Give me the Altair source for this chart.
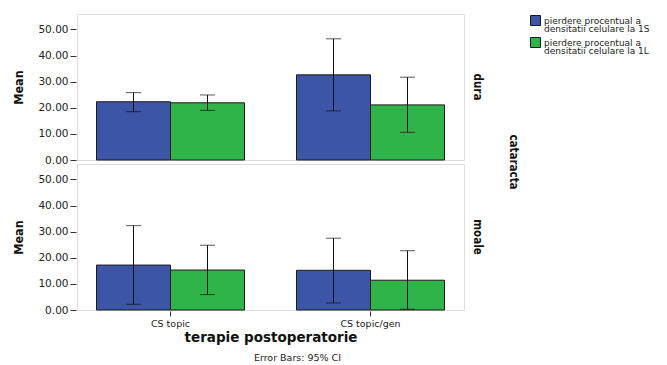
import altair as alt
import pandas as pd

therapy = ["CS topic", "CS topic/gen"]
cataract = ["dura", "moale"]
series = ["pierdere procentual a densitatii celulare la 1S",
          "pierdere procentual a densitatii celulare la 1L"]

# order: (dura, CS topic), (dura, CS topic/gen), (moale, CS topic), (moale, CS topic/gen)
mean_1S = [22.3, 32.6, 17.2, 15.2]
lo_1S = [18.5, 18.8, 2.2, 2.7]
hi_1S = [25.8, 46.4, 32.3, 27.5]
mean_1L = [21.9, 21.1, 15.3, 11.4]
lo_1L = [19.0, 10.6, 5.9, 0.3]
hi_1L = [24.9, 31.7, 24.8, 22.7]
y_ticks = [0, 10, 20, 30, 40, 50]

rows = []
i = 0
for c in cataract:
    for t in therapy:
        rows.append(dict(cataract=c, therapy=t, series=series[0], mean=mean_1S[i], lo=lo_1S[i], hi=hi_1S[i]))
        rows.append(dict(cataract=c, therapy=t, series=series[1], mean=mean_1L[i], lo=lo_1L[i], hi=hi_1L[i]))
        i += 1
df = pd.DataFrame(rows)

blue = "#3D55A6"
green = "#2FB44A"

xaxis = alt.Axis(title="terapie postoperatorie", labelAngle=0, labelFontSize=9.5,
                 labelFont="DejaVu Sans", labelColor="#222", tickSize=5,
                 tickColor="#333", domain=False, labelPadding=2,
                 titleFont="DejaVu Sans", titleFontWeight="bold", titleFontSize=13.5,
                 titlePadding=3, titleColor="#111")
xscale = alt.Scale(paddingInner=0.26, paddingOuter=0.0975)
yaxis = alt.Axis(title="Mean", values=y_ticks, tickCount=6, format=".2f",
                 labelOverlap=False, grid=False, labelFontSize=10.5,
                 labelFont="DejaVu Sans", labelColor="#222", tickSize=6,
                 tickColor="#333", domain=False, labelPadding=2,
                 titleFont="DejaVu Sans Condensed", titleFontWeight="bold",
                 titleFontSize=12.5, titlePadding=12, titleColor="#111")
yscale = alt.Scale(domain=[0, 55.9], nice=False)

x = alt.X("therapy:N", sort=therapy, scale=xscale, axis=xaxis)
xo = alt.XOffset("series:N", sort=series, scale=alt.Scale(paddingInner=0, paddingOuter=0))

color = alt.Color("series:N", sort=series,
                  scale=alt.Scale(domain=series, range=[blue, green]),
                  legend=alt.Legend(title=None, orient="none", legendX=453, legendY=1,
                                    symbolType="square", symbolSize=100,
                                    symbolStrokeColor="#1a1a1a", symbolStrokeWidth=1,
                                    labelFont="DejaVu Sans", labelFontSize=9,
                                    labelOffset=3,
                                    labelColor="#222", labelLimit=300, rowPadding=0,
                                    labelExpr="[slice(datum.label, 0, 21), slice(datum.label, 22)]",
                                    labelBaseline="middle"))

bars = alt.Chart().mark_bar(stroke="#1a1a1a", strokeWidth=1, opacity=1).encode(
    x=x, xOffset=xo, y=alt.Y("mean:Q", scale=yscale, axis=yaxis), color=color)
rules = alt.Chart().mark_rule(color="#111", strokeWidth=1).encode(
    x=x, xOffset=xo, y=alt.Y("lo:Q", scale=yscale, axis=yaxis), y2="hi:Q")
cap_lo = alt.Chart().mark_tick(color="#111", thickness=1, size=15, orient="horizontal").encode(
    x=x, xOffset=xo, y=alt.Y("lo:Q", scale=yscale, axis=yaxis))
cap_hi = alt.Chart().mark_tick(color="#111", thickness=1, size=15, orient="horizontal").encode(
    x=x, xOffset=xo, y=alt.Y("hi:Q", scale=yscale, axis=yaxis))

layer = alt.layer(bars, rules, cap_lo, cap_hi).properties(width=387, height=146)

chart = layer.facet(
    data=df,
    row=alt.Row("cataract:N", sort=cataract,
                header=alt.Header(labelOrient="right", labelAngle=90, labelFontSize=11.5,
                                  labelFont="DejaVu Sans Condensed", labelFontWeight="bold",
                                  labelColor="#111", labelPadding=6,
                                  title="cataracta", titleOrient="right", titleAngle=90,
                                  titleFont="DejaVu Sans Condensed", titleFontWeight="bold",
                                  titleFontSize=11.5, titleColor="#111", titlePadding=14)),
    spacing=2,
).properties(
    title=alt.TitleParams("Error Bars: 95% CI", orient="bottom", anchor="middle",
                          font="DejaVu Sans", fontSize=9.5, fontWeight="normal",
                          color="#222", offset=9, dx=-34),
    padding={"left": 12, "top": 13, "right": 0, "bottom": 0},
).configure_view(fill="#F0F0F0", stroke="#7a7a7a", strokeWidth=1.5
).configure(background="white", style={"guide-label": {"lineHeight": 8.8}})

chart.save("out.html", embed_options={"renderer": "svg", "actions": False})
